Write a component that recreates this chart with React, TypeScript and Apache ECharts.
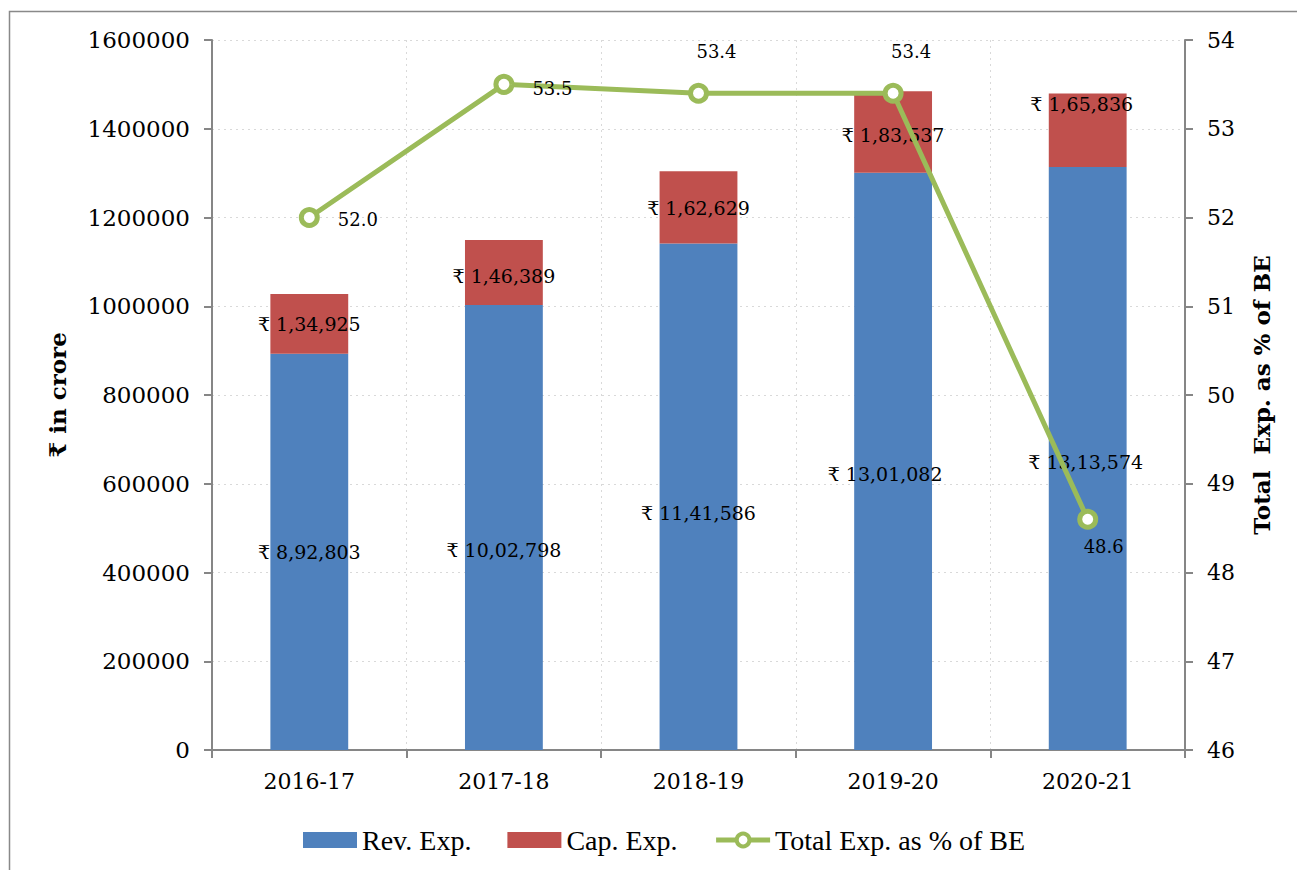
import React, { useEffect, useRef } from "react";
import * as echarts from "echarts";

const years = ["2016-17", "2017-18", "2018-19", "2019-20", "2020-21"];
const revExp = [892803, 1002798, 1141586, 1301082, 1313574];
const capExp = [134925, 146389, 162629, 183537, 165836];
const totalPct = [52.0, 53.5, 53.4, 53.4, 48.6];
const leftTicks = { min: 0, max: 1600000, interval: 200000 };
const rightTicks = { min: 46, max: 54, interval: 1 };

// label nudges (styling only)
const revLabelOffsets = [[0, 0], [0, 22], [0, 16], [-8, 13], [-2, 3]];
const capLabelOffsets = [[0, 0], [0, 3], [0, 1], [0, 3], [-6, -26]];
const pctLabelCfg = [
  { position: "right", offset: [4, 2] },
  { position: "right", offset: [4, 4] },
  { position: "top", offset: [18, -8] },
  { position: "top", offset: [18, -8] },
  { position: "bottom", offset: [16, -6] },
];

function indian(n: number): string {
  const s = String(Math.round(n));
  if (s.length <= 3) return s;
  const last3 = s.slice(-3);
  let rest = s.slice(0, -3);
  const parts: string[] = [];
  while (rest.length > 2) {
    parts.unshift(rest.slice(-2));
    rest = rest.slice(0, -2);
  }
  if (rest) parts.unshift(rest);
  return parts.join(",") + "," + last3;
}

const SERIF = "'DejaVu Serif', Georgia, serif";
const AXIS_GRAY = "#868686";
const GRID_GRAY = "#D9D9D9";
const GREEN = "#9BBB59";

export default function App() {
  const ref = useRef<HTMLDivElement>(null);
  useEffect(() => {
    document.body.style.margin = "0";
    if (!ref.current) return;
    const chart = echarts.init(ref.current, undefined, { renderer: "svg" });
    const option: any = {
      animation: false,
      backgroundColor: "#fff",
      graphic: [
        {
          type: "rect",
          shape: { x: 9.5, y: 11.5, width: 1400, height: 1000 },
          style: { fill: "none", stroke: "#898989", lineWidth: 1.5 },
          silent: true,
        },
      ],
      grid: { left: 212, right: 112, top: 40, bottom: 120, containLabel: false },
      legend: {
        left: 298,
        top: 821,
        itemWidth: 54,
        itemHeight: 16,
        itemGap: 36,
        textStyle: { fontFamily: "'Liberation Serif', 'Times New Roman', serif", fontSize: 28, color: "#000" },
        data: [
          { name: "Rev. Exp.", icon: "rect" },
          { name: "Cap. Exp.", icon: "rect" },
          {
            name: "Total Exp. as % of BE",
            lineStyle: { width: 5, color: GREEN },
            itemStyle: { color: "#fff", borderColor: GREEN, borderWidth: 4 },
          },
        ],
      },
      xAxis: {
        type: "category",
        data: years,
        axisLine: { lineStyle: { color: AXIS_GRAY, width: 2 } },
        axisTick: { show: true, length: 8, lineStyle: { color: AXIS_GRAY, width: 2 } },
        axisLabel: { fontFamily: SERIF, fontSize: 22, color: "#000", margin: 20 },
        splitLine: { show: true, lineStyle: { color: GRID_GRAY, type: [2, 4], width: 1 } },
      },
      yAxis: [
        {
          type: "value",
          min: leftTicks.min,
          max: leftTicks.max,
          interval: leftTicks.interval,
          name: "₹ in crore",
          nameLocation: "middle",
          nameRotate: 90,
          nameGap: 143,
          nameTextStyle: { fontFamily: SERIF, fontSize: 23, fontWeight: "bold", color: "#000" },
          axisLine: { show: true, lineStyle: { color: AXIS_GRAY, width: 2 } },
          axisTick: { show: true, length: 8, lineStyle: { color: AXIS_GRAY, width: 2 } },
          axisLabel: {
            fontFamily: SERIF,
            fontSize: 23,
            color: "#000",
            margin: 22,
            formatter: (v: number) => String(v),
          },
          splitLine: { show: true, lineStyle: { color: GRID_GRAY, type: [2, 4], width: 1 } },
        },
        {
          type: "value",
          position: "right",
          min: rightTicks.min,
          max: rightTicks.max,
          interval: rightTicks.interval,
          name: "Total  Exp. as % of BE",
          nameLocation: "middle",
          nameRotate: 90,
          nameGap: 65,
          nameTextStyle: { fontFamily: SERIF, fontSize: 23, fontWeight: "bold", color: "#000" },
          axisLine: { show: true, lineStyle: { color: AXIS_GRAY, width: 2 } },
          axisTick: { show: true, length: 8, lineStyle: { color: AXIS_GRAY, width: 2 } },
          axisLabel: { fontFamily: SERIF, fontSize: 22, color: "#000", margin: 22 },
          splitLine: { show: false },
        },
      ],
      series: [
        {
          name: "Rev. Exp.",
          type: "bar",
          stack: "exp",
          barWidth: "40%",
          itemStyle: { color: "#4F81BD" },
          data: revExp.map((v, i) => ({
            value: v,
            label: { offset: revLabelOffsets[i] },
          })),
          label: {
            show: true,
            position: "inside",
            color: "#000",
            fontFamily: SERIF,
            fontSize: 19,
            textBorderWidth: 0,
            formatter: (p: any) => "₹ " + indian(p.value),
          },
        },
        {
          name: "Cap. Exp.",
          type: "bar",
          stack: "exp",
          barWidth: "40%",
          itemStyle: { color: "#C0504D" },
          data: capExp.map((v, i) => ({
            value: v,
            label: { offset: capLabelOffsets[i] },
          })),
          label: {
            show: true,
            position: "inside",
            color: "#000",
            fontFamily: SERIF,
            fontSize: 19,
            textBorderWidth: 0,
            formatter: (p: any) => "₹ " + indian(p.value),
          },
        },
        {
          name: "Total Exp. as % of BE",
          type: "line",
          yAxisIndex: 1,
          z: 5,
          symbol: "circle",
          symbolSize: 16,
          lineStyle: { color: GREEN, width: 5 },
          itemStyle: { color: "#fff", borderColor: GREEN, borderWidth: 5 },
          data: totalPct.map((v, i) => ({
            value: v,
            label: { position: pctLabelCfg[i].position, offset: pctLabelCfg[i].offset },
          })),
          label: {
            show: true,
            color: "#000",
            fontFamily: SERIF,
            fontSize: 18,
            distance: 14,
            formatter: (p: any) => Number(p.value).toFixed(1),
          },
        },
      ],
    };
    chart.setOption(option);
    return () => chart.dispose();
  }, []);
  return <div ref={ref} style={{ width: 1297, height: 870 }} />;
}
